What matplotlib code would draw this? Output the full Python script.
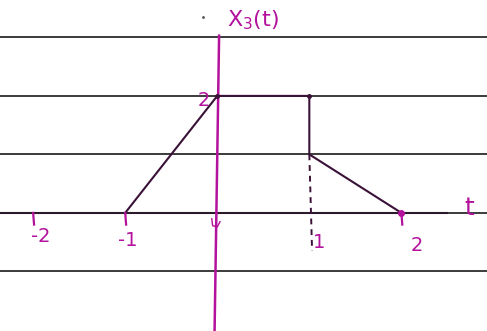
#Sketch of the signal x3(t) on ruled notebook paper
import matplotlib.pyplot as plt
import numpy as np

# signal corner points
t_pts = [-1, 0, 1, 1, 2]
x_pts = [0, 2, 2, 1, 0]

# tick positions and labels along the t axis
t_ticks = [-2, -1, 1, 2]
t_labels = ['-2', '-1', '1', '2']

# notebook rule lines (in signal units)
rule_levels = [3, 2, 1, 0, -1]

ink = '#b3129c'
pen = '#3a1238'

fig = plt.figure(figsize=(4.87, 3.31), dpi=100)
ax = fig.add_axes([0, 0, 1, 1])
ax.set_xlim(-2.36, 2.93)
ax.set_ylim(-2.02, 3.64)
ax.axis('off')

# ruled paper
for lvl in rule_levels:
    ax.axhline(lvl, color='#1a1a1a', lw=1.2, zorder=1)

# t axis (drawn heavier over the rule) and vertical axis
ax.plot([-2.36, 2.5], [0, 0], color='#2a1a2a', lw=1.5, zorder=2)
ax.plot([0.02, -0.03], [3.03, -2.1], color=ink, lw=1.8, zorder=3)

# the signal itself
ax.plot(t_pts, x_pts, color=pen, lw=1.5, zorder=4, solid_capstyle='round')
ax.plot([t_pts[1]], [x_pts[1]], 'o', color=pen, ms=2.5, zorder=5)
ax.plot([t_pts[2]], [x_pts[2]], 'o', color=pen, ms=2.5, zorder=5)
ax.plot([t_pts[-1]], [x_pts[-1]], 'o', color=ink, ms=4, zorder=5)

# dashed drop line at t = 1
ax.plot([1, 1.03], [x_pts[3], -0.65], color=pen, lw=1.4, ls=(0, (3, 2.5)), zorder=3)

# tick strokes and labels (hand-written labels sit a bit off the ticks)
label_dx = [0.08, 0.03, 0.11, 0.17]
label_y = [-0.4, -0.47, -0.5, -0.55]
for tk, lab, dx, ly in zip(t_ticks, t_labels, label_dx, label_y):
    if tk != 1:
        ax.plot([tk, tk + 0.01], [0, -0.2], color=ink, lw=1.6, zorder=4)
    ax.text(tk + dx, ly, lab, color=ink, fontsize=14, ha='center', va='center')
# small hook at the origin
ax.plot([-0.06, -0.05, 0.0, 0.03], [-0.1, -0.22, -0.24, -0.15], color=ink, lw=1.0, zorder=4)

ax.text(-0.15, 1.92, '2', color=ink, fontsize=14, ha='center', va='center')
ax.text(2.74, 0.08, 't', color=ink, fontsize=18, ha='center', va='center')
ax.text(0.39, 3.3, r'$\mathsf{X_3(t)}$', color=ink, fontsize=16, ha='center', va='center')
ax.plot([-0.15], [3.35], '.', color='#555555', ms=2)

fig.savefig('out.png', dpi=100)
